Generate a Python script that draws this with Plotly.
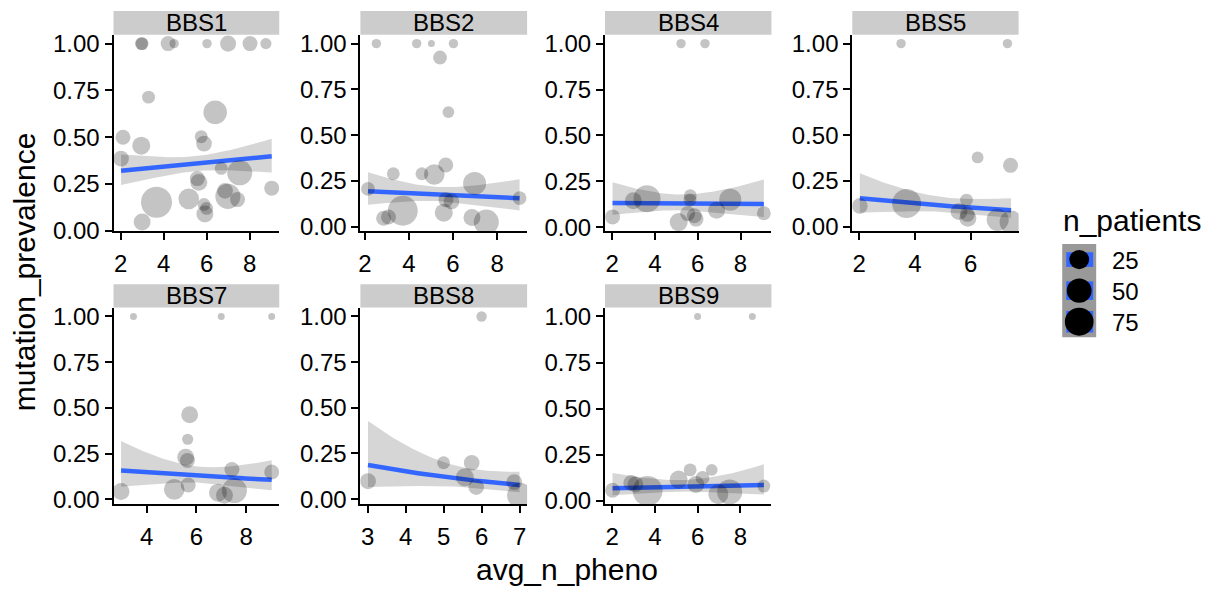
import math
import numpy as np
import plotly.graph_objects as go

# ---------------- data ----------------
genes = ["BBS1", "BBS2", "BBS4", "BBS5", "BBS7", "BBS8", "BBS9"]

bbs1_pheno = [2.97, 3.00, 4.21, 4.49, 6.02, 7.00, 8.02, 8.76, 3.30, 6.40, 2.11, 2.96, 5.75, 5.88,
              2.02, 6.68, 7.54, 5.57, 5.64, 9.03, 6.86, 6.99, 7.44, 3.67, 5.17, 5.88, 6.00, 5.92, 3.00]
bbs1_prev = [1.0, 1.0, 1.0, 1.0, 1.0, 1.0, 1.0, 1.0, 0.714, 0.633, 0.500, 0.455, 0.503, 0.466,
             0.386, 0.334, 0.310, 0.279, 0.259, 0.228, 0.214, 0.184, 0.167, 0.153, 0.171, 0.141, 0.120, 0.090, 0.047]
bbs1_n = [7, 7, 12, 2, 2, 15, 12, 4, 7, 48, 12, 22, 7, 14,
          14, 7, 57, 12, 18, 12, 14, 57, 12, 100, 33, 7, 7, 18, 18]

bbs2_pheno = [2.52, 4.35, 5.02, 6.02, 5.41, 5.79, 5.67, 3.29, 4.59, 5.15, 2.14, 6.98, 9.02, 5.68,
              5.93, 3.72, 2.85, 3.07, 5.58, 6.86, 7.51]
bbs2_prev = [1.0, 1.0, 1.0, 1.0, 0.924, 0.626, 0.337, 0.289, 0.289, 0.285, 0.206, 0.236, 0.156, 0.147,
             0.138, 0.087, 0.046, 0.053, 0.076, 0.050, 0.025]
bbs2_n = [2, 2, 1, 2, 9, 5, 12, 7, 7, 33, 9, 45, 9, 12,
          14, 91, 12, 12, 22, 18, 57]

bbs4_pheno = [5.22, 6.34, 2.02, 2.99, 3.63, 5.65, 5.64, 5.11, 5.53, 5.84, 5.92, 6.88, 7.52, 9.09]
bbs4_prev = [1.0, 1.0, 0.056, 0.144, 0.155, 0.171, 0.148, 0.028, 0.074, 0.062, 0.044, 0.092, 0.150, 0.076]
bbs4_n = [2, 2, 12, 18, 70, 7, 7, 22, 12, 12, 12, 18, 40, 9]

bbs5_pheno = [3.50, 7.32, 6.25, 7.43, 2.02, 3.70, 5.85, 5.58, 5.88, 5.90, 6.97, 7.45]
bbs5_prev = [1.0, 1.0, 0.378, 0.335, 0.113, 0.126, 0.145, 0.082, 0.067, 0.046, 0.037, 0.025]
bbs5_n = [2, 2, 5, 12, 14, 84, 7, 18, 12, 18, 40, 45]

bbs7_pheno = [3.47, 7.00, 9.03, 5.73, 5.65, 5.57, 5.64, 2.97, 5.11, 5.67, 7.43, 9.03, 6.87, 7.13, 7.53]
bbs7_prev = [1.0, 1.0, 1.0, 0.463, 0.329, 0.231, 0.213, 0.044, 0.055, 0.079, 0.164, 0.150, 0.037, 0.023, 0.049]
bbs7_n = [1, 1, 1, 18, 4, 18, 12, 18, 33, 12, 12, 12, 22, 18, 57]

bbs8_pheno = [6.00, 3.01, 5.00, 5.74, 5.56, 5.86, 6.86, 7.00]
bbs8_prev = [1.0, 0.098, 0.199, 0.199, 0.119, 0.066, 0.093, 0.021]
bbs8_n = [3, 15, 7, 14, 22, 14, 14, 57]

bbs9_pheno = [6.00, 8.56, 2.02, 2.89, 3.09, 3.66, 5.11, 5.65, 6.23, 5.92, 6.66, 6.97, 7.50, 9.10]
bbs9_prev = [1.0, 1.0, 0.056, 0.096, 0.088, 0.053, 0.114, 0.167, 0.123, 0.088, 0.167, 0.035, 0.047, 0.079]
bbs9_n = [1, 1, 12, 14, 14, 91, 22, 7, 9, 18, 5, 30, 57, 7]

legend_breaks = [25, 50, 75]

panels = [
    (bbs1_pheno, bbs1_prev, bbs1_n),
    (bbs2_pheno, bbs2_prev, bbs2_n),
    (bbs4_pheno, bbs4_prev, bbs4_n),
    (bbs5_pheno, bbs5_prev, bbs5_n),
    (bbs7_pheno, bbs7_prev, bbs7_n),
    (bbs8_pheno, bbs8_prev, bbs8_n),
    (bbs9_pheno, bbs9_prev, bbs9_n),
]
x_dticks = [2, 2, 2, 2, 2, 1, 2]

# ---------------- layout geometry (pixels) ----------------
W, H = 1208, 600
FONT = "Liberation Sans, Arial, Helvetica, sans-serif"
col_px = [(111.7, 277.7), (359.0, 526.0), (604.0, 770.7), (851.7, 1018.3)]
row_px = [(31.6, 233.6), (312.4, 514.8)]
strip_px = [(7.3, 31.6), (288.3, 312.4)]
grid_pos = [(0, 0), (0, 1), (0, 2), (0, 3), (1, 0), (1, 1), (1, 2)]

TICK_FS = 24
TITLE_FS = 30

all_n = np.concatenate([np.asarray(p[2], float) for p in panels])
n_min, n_max = all_n.min(), all_n.max()


def size_px(n):
    n = np.asarray(n, float)
    return 7.0 + 24.0 * np.sqrt((n - n_min) / (n_max - n_min))


def expit(z):
    return 1.0 / (1.0 + np.exp(-z))


def binom_glm_band(x, y, w, xs):
    """Binomial GLM (logit link) weighted by n, 95% band on the link scale."""
    x, y, w = map(lambda a: np.asarray(a, float), (x, y, w))
    X = np.column_stack([np.ones_like(x), x])
    beta = np.zeros(2)
    for _ in range(100):
        eta = X @ beta
        p = expit(eta)
        v = np.clip(p * (1 - p), 1e-10, None)
        Wt = w * v
        z = eta + (y - p) / v
        XtW = X.T * Wt
        beta_new = np.linalg.solve(XtW @ X, XtW @ z)
        if np.max(np.abs(beta_new - beta)) < 1e-12:
            beta = beta_new
            break
        beta = beta_new
    p = expit(X @ beta)
    Wt = w * p * (1 - p)
    cov = np.linalg.inv((X.T * Wt) @ X)
    Xs = np.column_stack([np.ones_like(xs), xs])
    eta_s = Xs @ beta
    se = np.sqrt(np.einsum("ij,jk,ik->i", Xs, cov, Xs))
    zq = 1.959963984540054
    return expit(eta_s), expit(eta_s - zq * se), expit(eta_s + zq * se)


def px2x(px):
    return px / W


def px2y(py):
    return 1 - py / H


fig = go.Figure()
layout = dict(
    width=W, height=H, margin=dict(l=0, r=0, t=0, b=0),
    paper_bgcolor="white", plot_bgcolor="white", showlegend=False,
    font=dict(family=FONT, color="black"),
)
shapes = []
annotations = []

for i, (gene, (xv, yv, nv), dt, (r, c)) in enumerate(zip(genes, panels, x_dticks, grid_pos), start=1):
    xa = "x" if i == 1 else f"x{i}"
    ya = "y" if i == 1 else f"y{i}"
    xv_a = np.asarray(xv, float)
    yv_a = np.asarray(yv, float)
    xs = np.linspace(xv_a.min(), xv_a.max(), 80)
    fit, lo, hi = binom_glm_band(xv, yv, nv, xs)

    fig.add_trace(go.Scatter(
        x=np.concatenate([xs, xs[::-1]]), y=np.concatenate([hi, lo[::-1]]),
        fill="toself", fillcolor="rgba(153,153,153,0.4)", line=dict(width=0),
        mode="lines", hoverinfo="skip", xaxis=xa, yaxis=ya))
    fig.add_trace(go.Scatter(
        x=xs, y=fit, mode="lines", line=dict(color="#3366FF", width=4.5),
        xaxis=xa, yaxis=ya))
    fig.add_trace(go.Scatter(
        x=xv, y=yv, mode="markers",
        marker=dict(size=size_px(nv), color="rgba(0,0,0,0.33)", line=dict(width=0)),
        xaxis=xa, yaxis=ya))

    xspan = xv_a.max() - xv_a.min()
    xr = [xv_a.min() - 0.05 * xspan, xv_a.max() + 0.05 * xspan]
    ymin = min(yv_a.min(), lo.min())
    ymax = max(yv_a.max(), hi.max())
    yspan = ymax - ymin
    yr = [ymin - 0.05 * yspan, ymax + 0.05 * yspan]

    x0, x1 = col_px[c]
    y0, y1 = row_px[r]
    axis_common = dict(
        showline=True, linecolor="black", linewidth=2, ticks="outside", ticklen=7,
        tickwidth=2, tickcolor="black", showgrid=False, zeroline=False,
        tickfont=dict(size=TICK_FS, color="black", family=FONT),
    )
    layout["xaxis" if i == 1 else f"xaxis{i}"] = dict(
        domain=[px2x(x0), px2x(x1)], anchor=ya, range=xr, tick0=0, dtick=dt,
        ticklabelstandoff=3, **axis_common)
    layout["yaxis" if i == 1 else f"yaxis{i}"] = dict(
        domain=[px2y(y1), px2y(y0)], anchor=xa, range=yr,
        tickvals=[0, 0.25, 0.5, 0.75, 1.0], tickformat=".2f", **axis_common)

    s0, s1 = strip_px[r]
    shapes.append(dict(type="rect", xref="paper", yref="paper",
                       x0=px2x(x0), x1=px2x(x1), y0=px2y(s1), y1=px2y(s0),
                       fillcolor="#CCCCCC", line=dict(width=0), layer="below"))
    annotations.append(dict(text=gene, xref="paper", yref="paper",
                            x=px2x((x0 + x1) / 2), y=px2y((s0 + s1) / 2),
                            xanchor="center", yanchor="middle", showarrow=False,
                            font=dict(size=TICK_FS, color="black", family=FONT)))

# axis titles
annotations.append(dict(text="avg_n_pheno", xref="paper", yref="paper",
                        x=px2x(566), y=px2y(582), xanchor="center", yanchor="middle",
                        showarrow=False, font=dict(size=TITLE_FS, color="black", family=FONT)))
annotations.append(dict(text="mutation_prevalence", xref="paper", yref="paper",
                        x=px2x(22), y=px2y(275), xanchor="center", yanchor="middle",
                        textangle=-90, showarrow=False,
                        font=dict(size=TITLE_FS, color="black", family=FONT)))

# size legend
annotations.append(dict(text="n_patients", xref="paper", yref="paper",
                        x=px2x(1061), y=px2y(223), xanchor="left", yanchor="middle",
                        showarrow=False, font=dict(size=TITLE_FS, color="black", family=FONT)))
key_top, key_h = 247.0, 32.0
kx0, kx1 = 1062.0, 1096.0
shapes.append(dict(type="rect", xref="paper", yref="paper",
                   x0=px2x(kx0), x1=px2x(kx1), y0=px2y(key_top + 3 * key_h), y1=px2y(key_top),
                   fillcolor="#999999", line=dict(width=0)))
leg_sizes = size_px(legend_breaks)
for k, (lab, d) in enumerate(zip(legend_breaks, leg_sizes)):
    cy = key_top + key_h * (k + 0.5)
    bh = 0.8 * d
    shapes.append(dict(type="rect", xref="paper", yref="paper",
                       x0=px2x(kx0 + 4), x1=px2x(kx1 - 3), y0=px2y(cy + bh / 2), y1=px2y(cy - bh / 2),
                       fillcolor="#3366FF", line=dict(width=0)))
    dd = d + 1
    shapes.append(dict(type="circle", xref="paper", yref="paper",
                       x0=px2x(1079 - dd / 2), x1=px2x(1079 + dd / 2),
                       y0=px2y(cy + dd / 2), y1=px2y(cy - dd / 2),
                       fillcolor="black", line=dict(width=0)))
    annotations.append(dict(text=str(lab), xref="paper", yref="paper",
                            x=px2x(1110), y=px2y(cy + 1), xanchor="left", yanchor="middle",
                            showarrow=False, font=dict(size=TICK_FS, color="black", family=FONT)))

layout["shapes"] = shapes
layout["annotations"] = annotations
fig.update_layout(**layout)
fig.write_html("out.html")
